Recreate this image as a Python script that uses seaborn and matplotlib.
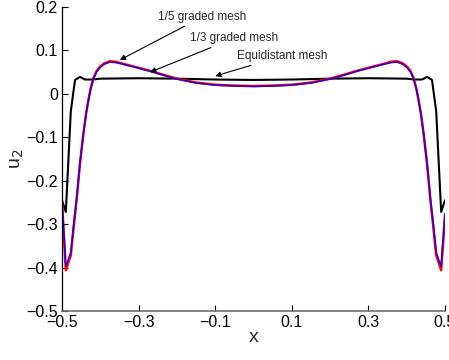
import numpy as np
import pandas as pd
import matplotlib
matplotlib.use("Agg")
import matplotlib.pyplot as plt
import seaborn as sns

sns.set_theme(style="white")
plt.rcParams['font.family'] = ['Liberation Sans', 'DejaVu Sans']

# Equidistant mesh (black)
x_eq = [-0.5, -0.49, -0.477, -0.466, -0.453, -0.44, -0.42, -0.4, -0.3, -0.2, -0.1, 0.0,
        0.1, 0.2, 0.3, 0.4, 0.42, 0.44, 0.453, 0.466, 0.477, 0.49, 0.5]
y_eq = [-0.245, -0.272, -0.04, 0.032, 0.039, 0.033, 0.033, 0.035, 0.036, 0.035, 0.033, 0.032,
        0.033, 0.035, 0.036, 0.035, 0.033, 0.033, 0.039, 0.032, -0.04, -0.272, -0.245]

# 1/5 graded mesh (red)
x_g5 = [-0.5, -0.49, -0.477, -0.47, -0.462, -0.453, -0.444, -0.437, -0.431, -0.425, -0.418,
        -0.41, -0.401, -0.39, -0.375, -0.36, -0.34, -0.3, -0.27, -0.24, -0.2, -0.15, -0.1,
        -0.05, 0.0, 0.05, 0.1, 0.15, 0.2, 0.24, 0.27, 0.3, 0.34, 0.36, 0.375, 0.39, 0.401,
        0.41, 0.418, 0.425, 0.431, 0.437, 0.444, 0.453, 0.462, 0.47, 0.477, 0.49, 0.5]
y_g5 = [-0.25, -0.406, -0.371, -0.31, -0.245, -0.16, -0.091, -0.045, -0.014, 0.013, 0.036,
        0.052, 0.0625, 0.07, 0.075, 0.074, 0.069, 0.06, 0.053, 0.045, 0.035, 0.026, 0.021,
        0.019, 0.018, 0.019, 0.021, 0.026, 0.035, 0.045, 0.053, 0.06, 0.069, 0.074, 0.075,
        0.07, 0.0625, 0.052, 0.036, 0.013, -0.014, -0.045, -0.091, -0.16, -0.245, -0.31,
        -0.371, -0.406, -0.28]

# 1/3 graded mesh (blue)
x_g3 = x_g5
y_g3 = [-0.245, -0.397, -0.365, -0.305, -0.242, -0.158, -0.09, -0.045, -0.015, 0.012, 0.034,
        0.05, 0.06, 0.068, 0.073, 0.072, 0.068, 0.059, 0.052, 0.044, 0.034, 0.025, 0.02,
        0.018, 0.017, 0.018, 0.02, 0.025, 0.034, 0.044, 0.052, 0.059, 0.068, 0.072, 0.073,
        0.068, 0.06, 0.05, 0.034, 0.012, -0.015, -0.045, -0.09, -0.158, -0.242, -0.305,
        -0.365, -0.397, -0.275]

xticks = [-0.5, -0.3, -0.1, 0.1, 0.3, 0.5]
yticks = [-0.5, -0.4, -0.3, -0.2, -0.1, 0.0, 0.1, 0.2]

fig = plt.figure(figsize=(4.49, 3.6), dpi=100)
ax = fig.add_axes([62/449, 1-311/360, (445-62)/449, (311-7)/360])

sns.lineplot(x=x_eq, y=y_eq, ax=ax, color="black", lw=1.5, sort=False, estimator=None)
sns.lineplot(x=x_g5, y=y_g5, ax=ax, color="red", lw=1.8, sort=False, estimator=None)
sns.lineplot(x=x_g3, y=y_g3, ax=ax, color="blue", lw=1.1, sort=False, estimator=None, alpha=0.85)

ax.set_xlim(-0.5, 0.5)
ax.set_ylim(-0.5, 0.2)
ax.set_xticks(xticks)
ax.set_xticklabels(["\u22120.5", "\u22120.3", "\u22120.1", "0.1", "0.3", "0.5"])
ax.set_yticks(yticks)
ax.set_yticklabels(["\u22120.5", "\u22120.4", "\u22120.3", "\u22120.2", "\u22120.1", "0", "0.1", "0.2"])
ax.tick_params(direction="in", length=4, width=0.8, labelsize=11.5, colors="black",
               left=True, bottom=True, pad=3)
ax.set_xlabel("x", fontsize=14, labelpad=-1)
ax.set_ylabel("u$_2$", fontsize=14, labelpad=0)

for s in ["top", "right"]:
    ax.spines[s].set_visible(False)
ax.spines["left"].set_color("black")
ax.spines["left"].set_linewidth(0.9)
ax.spines["bottom"].set_color("#707070")
ax.spines["bottom"].set_linewidth(1.2)

arrowprops = dict(arrowstyle="-|>", color="black", lw=0.8, mutation_scale=8, shrinkA=0, shrinkB=0)
ax.annotate("1/5 graded mesh", xy=(-0.349, 0.078), xytext=(-0.249, 0.177),
            fontsize=8.5, va="center", ha="left", arrowprops=arrowprops)
ax.annotate("1/3 graded mesh", xy=(-0.270, 0.050), xytext=(-0.166, 0.128),
            fontsize=8.5, va="center", ha="left", arrowprops=arrowprops)
ax.annotate("Equidistant mesh", xy=(-0.100, 0.041), xytext=(-0.044, 0.087),
            fontsize=8.5, va="center", ha="left", arrowprops=arrowprops)

fig.savefig("out.png", dpi=100)
